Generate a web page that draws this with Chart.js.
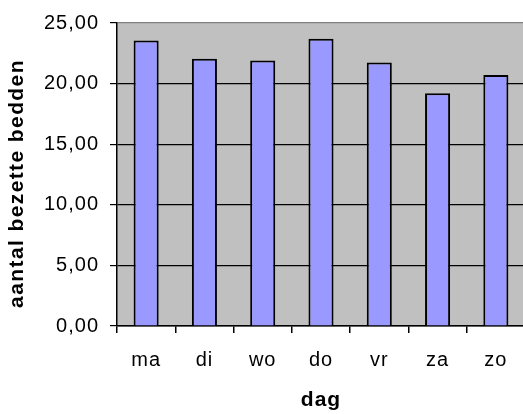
<!DOCTYPE html>
<html>
<head>
<meta charset="utf-8">
<script src="https://cdn.jsdelivr.net/npm/chart.js@4"></script>
<style>
  html, body { margin: 0; padding: 0; background: #fff; overflow: hidden; }
  canvas { display: block; }
</style>
</head>
<body>
<canvas id="chart" width="527" height="414"></canvas>
<script>
const dagen = ['ma', 'di', 'wo', 'do', 'vr', 'za', 'zo'];
const bezetteBedden = [23.55, 22.05, 21.9, 23.7, 21.75, 19.2, 20.7];
const yMax = 25;
const yStap = 5;

const FONT = '"Liberation Sans", Arial, sans-serif';

// grijze plotachtergrond + letterafstand
const plotAchtergrond = {
    id: 'plotAchtergrond',
    beforeDraw(chart) {
        const { ctx, chartArea: a } = chart;
        ctx.letterSpacing = '1px';
        ctx.save();
        ctx.fillStyle = '#c0c0c0';
        ctx.fillRect(a.left, a.top, a.right - a.left, a.bottom - a.top);
        ctx.restore();
    }
};

// y-as titel (zelf getekend om de positie te kunnen zetten)
const yTitel = {
    id: 'yTitel',
    afterDraw(chart) {
        const ctx = chart.ctx;
        ctx.save();
        ctx.translate(17.5, 183.5);
        ctx.rotate(-Math.PI / 2);
        ctx.font = 'bold 21px ' + FONT;
        ctx.letterSpacing = '1.4px';
        ctx.fillStyle = '#000';
        ctx.textAlign = 'center';
        ctx.textBaseline = 'middle';
        ctx.fillText('aantal bezette bedden', 0, 0);
        ctx.restore();
    }
};

new Chart(document.getElementById('chart'), {
    type: 'bar',
    data: {
        labels: dagen,
        datasets: [{
            data: bezetteBedden,
            backgroundColor: '#9999ff',
            borderColor: '#000',
            borderWidth: 2,
            borderSkipped: 'bottom',
            categoryPercentage: 1,
            barPercentage: 0.43
        }]
    },
    options: {
        responsive: false,
        animation: false,
        devicePixelRatio: 1,
        layout: { padding: { left: 0, top: 21, right: 2, bottom: 0 } },
        plugins: {
            legend: { display: false },
            tooltip: { enabled: false }
        },
        scales: {
            x: {
                afterFit: (s) => { s.height = 88; },
                border: { color: '#000', width: 1.5 },
                grid: { drawOnChartArea: false, tickLength: 7, color: '#000', lineWidth: 1.5 },
                ticks: { color: '#000', padding: 15, font: { family: FONT, size: 20 } },
                title: {
                    display: true,
                    text: 'dag',
                    color: '#000',
                    padding: { top: 0, bottom: 1 },
                    font: { family: FONT, size: 21, weight: 'bold' }
                }
            },
            y: {
                min: 0,
                max: yMax,
                afterFit: (s) => { s.width = 117; },
                border: { color: '#000', width: 1.5 },
                grid: {
                    color: (c) => (c.tick && c.tick.value === yMax ? '#808080' : '#000'),
                    tickColor: '#000',
                    tickLength: 7,
                    lineWidth: 1.2
                },
                ticks: {
                    stepSize: yStap,
                    color: '#000',
                    padding: 11,
                    font: { family: FONT, size: 20 },
                    callback: (v) => v.toFixed(2).replace('.', ',')
                }
            }
        }
    },
    plugins: [plotAchtergrond, yTitel]
});
</script>
</body>
</html>
